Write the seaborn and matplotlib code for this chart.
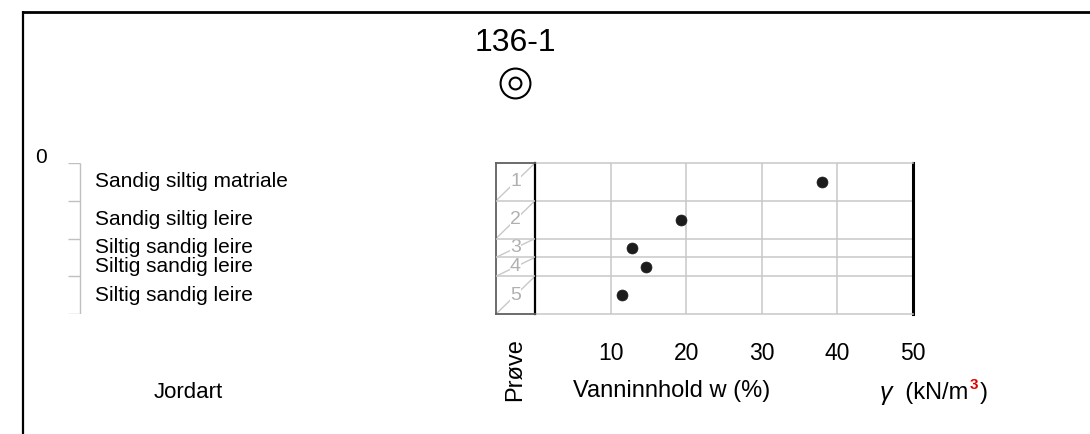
import numpy as np
import pandas as pd
import matplotlib
matplotlib.use("Agg")
import matplotlib.pyplot as plt
import seaborn as sns

# Borehole 136-1: samples, depth (m) and water content (%)
borehole = "136-1"
sample_no = [1, 2, 3, 4, 5]
depth_top = [0.0, 1.0, 2.0, 2.5, 3.0]
depth_bot = [1.0, 2.0, 2.5, 3.0, 4.0]
water_content = [38.0, 19.3, 12.8, 14.7, 11.5]
soil_type = ["Sandig siltig matriale", "Sandig siltig leire",
             "Siltig sandig leire", "Siltig sandig leire", "Siltig sandig leire"]
layer_bounds = [0, 1, 2, 3, 4]
x_ticks = [10, 20, 30, 40, 50]

df = pd.DataFrame({"sample": sample_no, "top": depth_top, "bot": depth_bot,
                   "w": water_content, "soil": soil_type})
df["mid"] = (df["top"] + df["bot"]) / 2
sample_bounds = sorted(set(depth_top) | set(depth_bot))

sns.set_style("white")
plt.rcParams["font.family"] = ["Liberation Sans", "DejaVu Sans"]
plt.rcParams["text.color"] = "black"
plt.rcParams["xtick.color"] = "black"
plt.rcParams["xtick.labelcolor"] = "black"

W, H = 1090, 434
fig = plt.figure(figsize=(W / 100, H / 100), dpi=100)


def px_axes(x0, y0, x1, y1, **kw):
    return fig.add_axes([x0 / W, 1 - y1 / H, (x1 - x0) / W, (y1 - y0) / H], **kw)


grid_c = "#c8c8c8"
dmax = layer_bounds[-1]

# background / frame
bg = px_axes(0, 0, W, H)
bg.set_xlim(0, W)
bg.set_ylim(H, 0)
bg.axis("off")
bg.plot([23, W], [11.5, 11.5], color="black", lw=2.0, solid_capstyle="butt")
bg.plot([23, 23], [11, H], color="black", lw=1.6, solid_capstyle="butt")
bg.text(515, 43, borehole, fontsize=23, ha="center", va="center")
bg.plot([515], [83], marker="o", ms=21.5, mfc="none", mec="black", mew=1.5)
bg.plot([515], [83], marker="o", ms=8.5, mfc="none", mec="black", mew=1.5)

# main plot: water content
ax = px_axes(535, 163, 913, 314)
sns.scatterplot(x=df["w"], y=df["mid"], ax=ax, s=62, color="#1c1c1c",
                edgecolor="#1c1c1c", linewidth=0.5, zorder=5, legend=False)
ax.set_xlim(0, 50)
ax.set_ylim(dmax, 0)
for x in x_ticks[:-1]:
    ax.axvline(x, color=grid_c, lw=1.1, zorder=1)
for d in sample_bounds[1:-1]:
    ax.axhline(d, color=grid_c, lw=1.1, zorder=1)
for s in ["top", "bottom"]:
    ax.spines[s].set_color(grid_c)
    ax.spines[s].set_linewidth(1.1)
ax.spines["left"].set_color("black")
ax.spines["left"].set_linewidth(1.4)
ax.spines["right"].set_color("black")
ax.spines["right"].set_linewidth(2.2)
ax.set_xticks(x_ticks)
ax.set_xticklabels([str(t) for t in x_ticks])
ax.tick_params(axis="x", length=0, pad=20, labelsize=16.5, labelcolor="black")
ax.set_yticks([])
ax.set_xlabel("")
ax.set_ylabel("")

# sample column
axp = px_axes(496, 163, 535, 314)
axp.set_xlim(0, 1)
axp.set_ylim(dmax, 0)
axp.set_xticks([])
axp.set_yticks([])
for d in sample_bounds[1:-1]:
    axp.axhline(d, color=grid_c, lw=1.1, zorder=4)
for _, r in df.iterrows():
    axp.plot([0, 1], [r["bot"], r["top"]], color=grid_c, lw=1.0, zorder=1)
    axp.text(0.5, r["mid"], str(r["sample"]), ha="center", va="center",
             fontsize=14, color="#b0b0b0", zorder=2,
             bbox=dict(fc="white", ec="none", pad=0.3))
for s in ["left", "top", "bottom"]:
    axp.spines[s].set_color("#606060")
    axp.spines[s].set_linewidth(1.3)
axp.spines["right"].set_color("black")
axp.spines["right"].set_linewidth(1.6)

# soil type column
axj = px_axes(0, 163, 496, 314)
axj.set_xlim(0, 496)
axj.set_ylim(dmax, 0)
axj.axis("off")
axj.vlines(80, layer_bounds[0], layer_bounds[-1], color="#c0c0c0", lw=1.0)
axj.hlines(layer_bounds, 68, 80, color="#c0c0c0", lw=1.0)
axj.text(41, layer_bounds[0], str(layer_bounds[0]), fontsize=15,
         ha="center", va="baseline")
for _, r in df.iterrows():
    axj.text(95, r["mid"], r["soil"], fontsize=15, ha="left", va="center")

# bottom labels
bg.text(515, 370, "Prøve", rotation=90, fontsize=17, ha="center", va="center")
bg.text(188, 393, "Jordart", fontsize=16, ha="center", va="center")
bg.text(573, 391, "Vanninnhold w (%)", fontsize=17, ha="left", va="center")
tg = bg.text(880, 393, "γ", fontsize=18, ha="left", va="center",
             style="italic")
t1 = bg.annotate("  (kN/m", xy=(1, 0.5), xycoords=tg, xytext=(0, 0),
                 textcoords="offset points", fontsize=17, ha="left",
                 va="center")
t2 = bg.annotate("3", xy=(1, 0.55), xycoords=t1, xytext=(1, 0),
                 textcoords="offset points", fontsize=11, color="#e00000",
                 fontweight="bold", ha="left", va="bottom")
t3 = bg.annotate(")", xy=(1, 0), xycoords=(t2, t1), xytext=(1, 0),
                 textcoords="offset points", fontsize=17, ha="left",
                 va="bottom")

fig.savefig("out.png", dpi=100)
